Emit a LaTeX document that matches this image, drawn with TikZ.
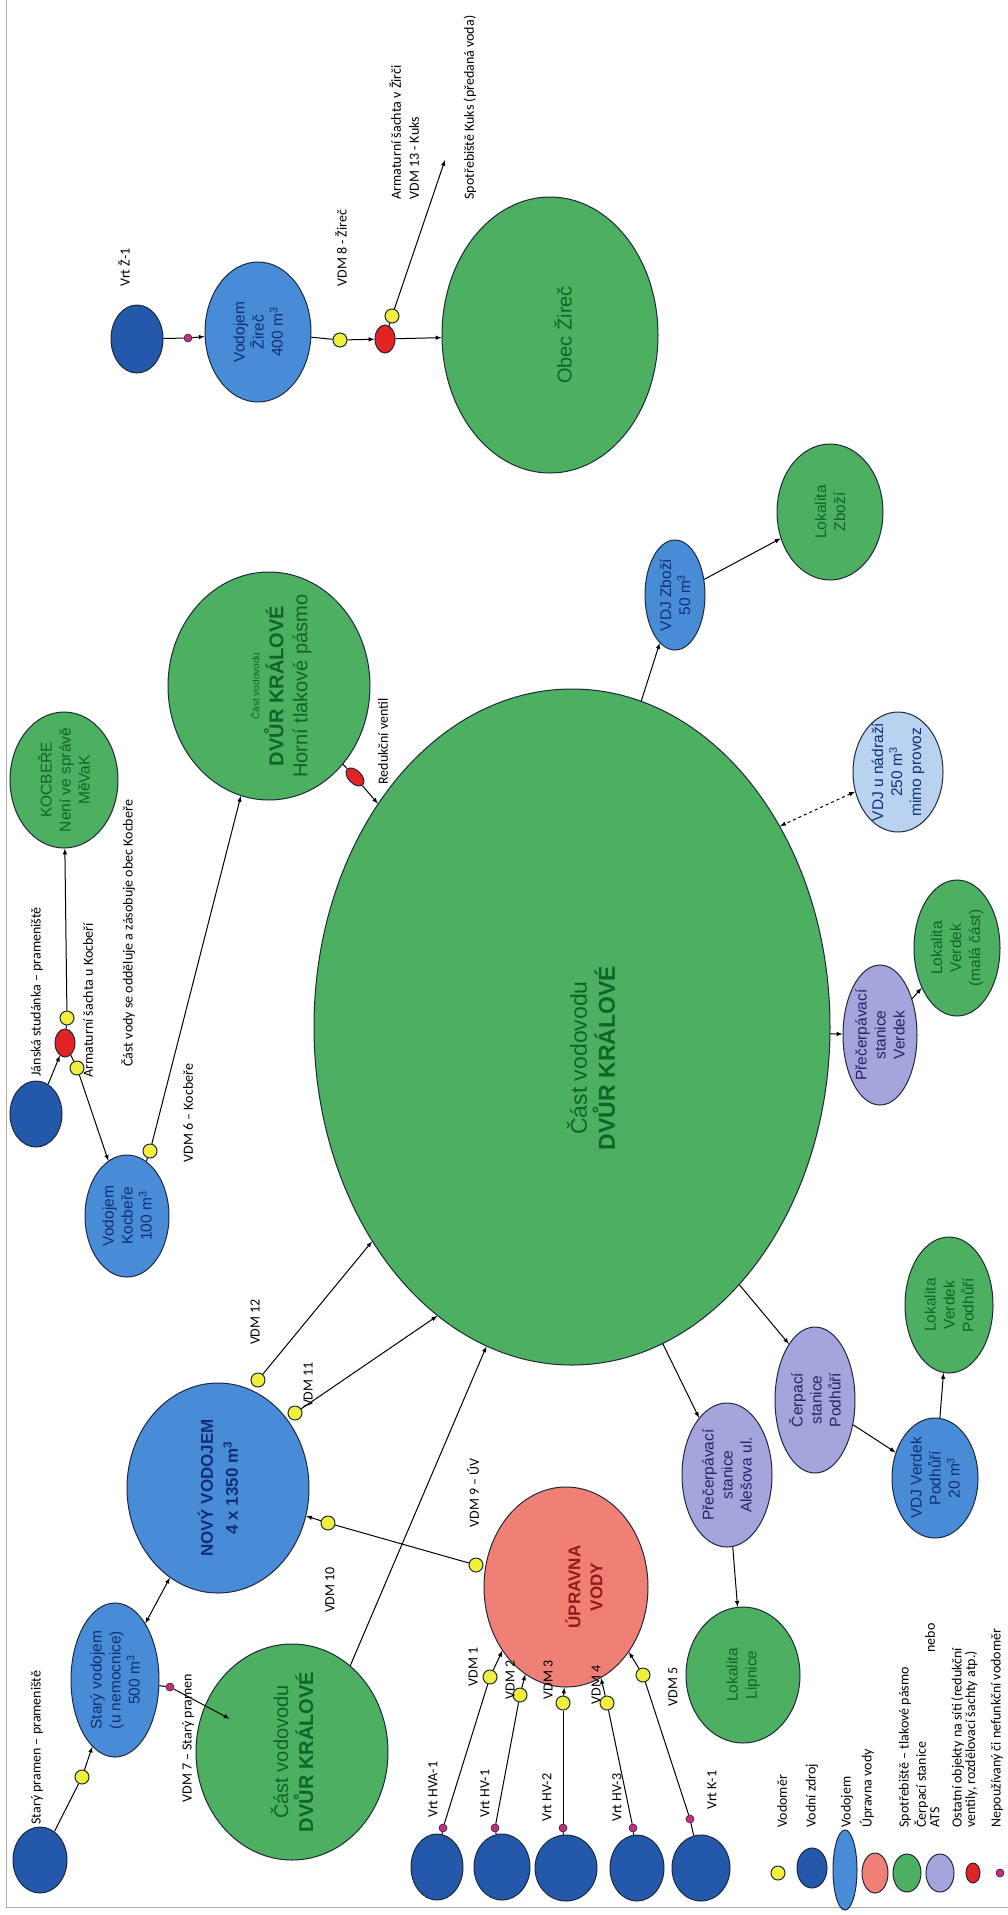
\documentclass[tikz,border=0pt]{standalone}
\usepackage{fontspec}
\setmainfont{Carlito}
\newfontfamily\arialf{Liberation Sans}
\usetikzlibrary{positioning}
\usetikzlibrary{arrows}
\usetikzlibrary{shapes}

\definecolor{edge}{RGB}{30,40,60}
\definecolor{srcblue}{RGB}{36,88,170}
\definecolor{tankblue}{RGB}{72,140,215}
\definecolor{oldtank}{RGB}{185,210,240}
\definecolor{spotgreen}{RGB}{76,176,96}
\definecolor{uvsalmon}{RGB}{240,128,118}
\definecolor{statlilac}{RGB}{165,165,222}
\definecolor{armred}{RGB}{225,35,35}
\definecolor{meteryellow}{RGB}{240,240,60}
\definecolor{badmagenta}{RGB}{200,45,125}
\definecolor{gtext}{RGB}{16,100,40}
\definecolor{btext}{RGB}{18,45,120}
\definecolor{rtext}{RGB}{150,25,25}
\definecolor{ltext}{RGB}{35,35,100}

\begin{document}
\begin{tikzpicture}[x=1pt,y=-1pt,>=latex,line width=1pt,
  blob/.style 2 args={ellipse,draw=edge,inner sep=0pt,minimum width=#1pt,minimum height=#2pt},
  src/.style 2 args={blob={#1}{#2},fill=srcblue},
  tank/.style 2 args={blob={#1}{#2},fill=tankblue},
  offtank/.style 2 args={blob={#1}{#2},fill=oldtank},
  spot/.style 2 args={blob={#1}{#2},fill=spotgreen},
  uvs/.style 2 args={blob={#1}{#2},fill=uvsalmon},
  stat/.style 2 args={blob={#1}{#2},fill=statlilac},
  meter/.style={circle,draw=edge,fill=meteryellow,minimum size=14pt,inner sep=0pt},
  dead/.style={circle,draw=edge,line width=0.6pt,fill=badmagenta,minimum size=8pt,inner sep=0pt},
  armat/.style={ellipse,draw=edge,fill=armred,minimum width=20pt,minimum height=28pt,inner sep=0pt},
  vt/.style={rotate=90,align=center,inner sep=0pt,font=\arialf\fontsize{15.5}{19}\selectfont},
  gtx/.style={vt,text=gtext},
  btx/.style={vt,text=btext},
  rtx/.style={vt,text=rtext},
  ltx/.style={vt,text=ltext},
  lbl/.style={rotate=90,anchor=west,inner sep=0pt,font=\fontsize{14}{18}\selectfont},
  lblc/.style={lbl,anchor=center},
  leg/.style={lbl,font=\fontsize{14}{13.5}\selectfont},
  legc/.style={leg,anchor=center}]
\useasboundingbox (0,0) rectangle (1008,1915);
\draw[gray!60] (6,0) -- (6,1907) -- (1008,1907);

% stary pramen a vodojemy
\node[src={54}{66}] (starypramen) at (40,1860) {};
\node[meter] (vdm0) at (82,1777) {};
\node[tank={88}{154},label={[btx]center:Starý vodojem\\(u nemocnice)\\500 m\textsuperscript{3}}] (staryvdj) at (115,1680) {};
\node[tank={182}{210},label={[btx,font=\arialf\bfseries\fontsize{17}{25}\selectfont]center:NOVÝ VODOJEM\\4 x 1350 m\textsuperscript{3}}] (novyvdj) at (218,1488) {};
\node[dead] (m7) at (170,1687) {};
\node[spot={192}{216},label={[gtx,font=\arialf\fontsize{20}{25}\selectfont]center:Část vodovodu\\\textbf{DVŮR KRÁLOVÉ}}] (dklow) at (292,1752) {};
\node[uvs={164}{200},label={[xshift=18pt,rtx,font=\arialf\bfseries\fontsize{17}{22}\selectfont]center:ÚPRAVNA\\VODY}] (uv) at (566,1587) {};
\node[meter] (vdm9a) at (476,1565) {};
\node[meter] (vdm9b) at (328,1523) {};
\node[meter] (vdm12) at (258,1380) {};
\node[meter] (vdm11) at (295,1413) {};

% vrty
\node[src={52}{66}] (hva1) at (437,1867) {};
\node[src={56}{66}] (hv1) at (502,1867) {};
\node[src={62}{66}] (hv2) at (566,1868) {};
\node[src={54}{66}] (hv3) at (637,1868) {};
\node[src={58}{66}] (k1) at (701,1868) {};
\node[dead] (mhva1) at (443,1828) {};
\node[dead] (mhv1) at (495,1828) {};
\node[dead] (mhv2) at (563,1828) {};
\node[dead] (mhv3) at (633,1828) {};
\node[dead] (mk1) at (690,1819) {};
\node[meter] (vdm1) at (490,1677) {};
\node[meter] (vdm2) at (520,1695) {};
\node[meter] (vdm3) at (563,1703) {};
\node[meter] (vdm4) at (607,1703) {};
\node[meter] (vdm5) at (643,1675) {};

% hlavni spotrebiste
\node[spot={516}{676},label={[xshift=19pt,yshift=-31pt,gtx,font=\arialf\fontsize{23}{28}\selectfont]center:Část vodovodu\\\textbf{DVŮR KRÁLOVÉ}}] (dk) at (572,1027) {};
\node[stat={90}{144},label={[ltx]center:Přečerpávací\\stanice\\Alešova ul.}] (alesova) at (727,1475) {};
\node[spot={114}{136},label={[gtx]center:Lokalita\\Lipnice}] (lipnice) at (743,1675) {};
\node[stat={80}{146},label={[ltx]center:Čerpací\\stanice\\Podhůří}] (podhuri) at (815,1400) {};
\node[tank={86}{120},label={[btx]center:VDJ Verdek\\Podhůří\\20 m\textsuperscript{3}}] (vdjverdek) at (935,1478) {};
\node[spot={88}{136},label={[gtx]center:Lokalita\\Verdek\\Podhůří}] (lokpodhuri) at (949,1305) {};
\node[stat={74}{140},label={[ltx]center:Přečerpávací\\stanice\\Verdek}] (precverdek) at (880,1035) {};
\node[spot={86}{136},label={[gtx]center:Lokalita\\Verdek\\(malá část)}] (lokverdek) at (957,948) {};
\node[offtank={90}{120},label={[btx]center:VDJ u nádraží\\250 m\textsuperscript{3}\\mimo provoz}] (vdjnadrazi) at (898,772) {};
\node[tank={60}{110},label={[btx]center:VDJ Zboží\\50 m\textsuperscript{3}}] (vdjzbozi) at (675,595) {};
\node[spot={106}{136},label={[gtx]center:Lokalita\\Zboží}] (lokzbozi) at (830,512) {};

% Zirec
\node[src={52}{68}] (vrtz1) at (137,339) {};
\node[dead] (mz1) at (188,338) {};
\node[tank={106}{140},label={[btx]center:Vodojem\\Žireč\\400 m\textsuperscript{3}}] (vdjzirec) at (258,332) {};
\node[meter] (vdm8) at (340,340) {};
\node[armat] (aszirec) at (385,339) {};
\node[meter] (vdm13) at (392,316) {};
\coordinate (kuks) at (445,160);
\node[spot={216}{276},label={[xshift=13pt,gtx,font=\arialf\fontsize{20}{24}\selectfont]center:Obec Žireč}] (obeczirec) at (550,335) {};

% Kocbere
\node[src={52}{66}] (janska) at (36,1114) {};
\node[armat] (askocb) at (65,1043) {};
\node[meter] (vdmk) at (67,1018) {};
\node[meter] (vdmkv) at (77,1068) {};
\node[spot={108}{136},label={[gtx]center:KOCBEŘE\\Není ve správě\\MěVaK}] (kocbere) at (64,780) {};
\node[tank={84}{122},label={[btx]center:Vodojem\\Kocbeře\\100 m\textsuperscript{3}}] (vdjkocb) at (127,1216) {};
\node[meter] (vdm6) at (150,1151) {};
\node[spot={202}{228},label={[xshift=12pt,gtx,font=\arialf\fontsize{20}{24}\selectfont]center:{\fontsize{10}{12}\selectfont Část vodovodu}\\\textbf{DVŮR KRÁLOVÉ}\\Horní tlakové pásmo}] (dkhorni) at (269,686) {};
\node[armat,rotate=45,minimum width=13pt,minimum height=22pt] (redventil) at (355,777) {};

% popisky
\node[lbl] (lstary) at (37,1825) {Starý pramen – prameniště};
\node[lbl] (lvdm7) at (188,1803) {VDM 7 – Starý pramen};
\node[lblc] (lvdm10) at (330,1590) {VDM 10};
\node[lblc] (lvdm9) at (473,1493) {VDM 9 – ÚV};
\node[lblc] (lvdm12) at (255,1322) {VDM 12};
\node[lblc] (lvdm11) at (308,1385) {VDM 11};
\node[lbl] (lhva1) at (433,1818) {Vrt HVA-1};
\node[lbl] (lhv1) at (485,1818) {Vrt HV-1};
\node[lbl] (lhv2) at (547,1822) {Vrt HV-2};
\node[lbl] (lhv3) at (617,1822) {Vrt HV-3};
\node[lbl] (lk1) at (712,1810) {Vrt K-1};
\node[lbl] (lvdm1) at (473,1687) {VDM 1};
\node[lbl] (lvdm2) at (510,1700) {VDM 2};
\node[lbl] (lvdm3) at (548,1700) {VDM 3};
\node[lbl] (lvdm4) at (596,1705) {VDM 4};
\node[lbl] (lvdm5) at (673,1707) {VDM 5};
\node[lbl] (lvrtz1) at (124,287) {Vrt Ž-1};
\node[lbl] (lvdm8) at (341,287) {VDM 8 - Žireč};
\node[lbl,anchor=north west,align=left] (lkuks) at (389,200) {Armaturní šachta v Žirči\\VDM 13 - Kuks};
\node[lbl] (lspotkuks) at (470,200) {Spotřebiště Kuks (předaná voda)};
\node[lbl] (ljanska) at (37,1077) {Jánská studánka – prameniště};
\node[lbl] (laskocb) at (88,1078) {Armaturní šachta u Kocbeří};
\node[lbl] (lcastvody) at (128,1067) {Část vody se odděluje a zásobuje obec Kocbeře};
\node[lblc] (lvdm6) at (188,1113) {VDM 6 – Kocbeře};
\node[lbl] (lredventil) at (383,785) {Redukční ventil};

% legenda
\node[meter] (legmeter) at (778,1873) {};
\node[src={30}{40}] (legsrc) at (812,1868) {};
\node[tank={24}{80}] (legtank) at (845,1870) {};
\node[uvs={26}{40}] (leguv) at (875,1873) {};
\node[spot={28}{38}] (legspot) at (907,1873) {};
\node[stat={28}{38}] (legstat) at (940,1873) {};
\node[armat,minimum width=14pt,minimum height=20pt] (legarmat) at (973,1873) {};
\node[dead] (legdead) at (1000,1873) {};
\node[leg] (lleg1) at (782,1828) {Vodoměr};
\node[leg] (lleg2) at (812,1828) {Vodní zdroj};
\node[leg] (lleg3) at (847,1828) {Vodojem};
\node[leg] (lleg4) at (867,1828) {Úpravna vody};
\node[leg] (lleg5) at (905,1828) {Spotřebiště – tlakové pásmo};
\node[leg,anchor=north west,align=left] (lleg6) at (914,1828) {Čerpací stanice\\ATS};
\node[legc] (lleg7) at (930,1638) {nebo};
\node[leg,anchor=north west,align=left] (lleg8) at (951,1828) {Ostatní objekty na síti (redukční\\ventily, rozdělovací šachty atp.)};
\node[leg] (lleg9) at (997,1828) {Nepoužívaný či nefunkční vodoměr};

% spojnice
\draw (starypramen) -- (vdm0);
\draw[->] (vdm0) -- (staryvdj);
\draw[<->] (staryvdj) -- (novyvdj);
\draw (staryvdj) -- (m7);
\draw[->,shorten >=-28pt] (m7) -- (dklow);
\draw[->] (dklow.56) -- (dk.255);
\draw (vdm9a) -- (vdm9b);
\draw[->] (vdm9b) -- (novyvdj);
\draw[->] (vdm12) -- (dk.227);
\draw[->] (vdm11) -- (dk.245);

\draw (hva1) -- (mhva1);
\draw (hv1) -- (mhv1);
\draw (hv2) -- (mhv2);
\draw (hv3) -- (mhv3);
\draw (k1) -- (mk1);
\draw (mhva1) -- (vdm1);
\draw (mhv1) -- (vdm2);
\draw (mhv2) -- (vdm3);
\draw (mhv3) -- (vdm4);
\draw (mk1) -- (vdm5);
\draw[->] (vdm1) -- (uv.225);
\draw[->] (vdm2) -- (uv.245);
\draw[->] (vdm3) -- (uv.269);
\draw[->] (vdm4) -- (uv.291);
\draw[->] (vdm5) -- (uv.314);

\draw[->] (dk.286) -- (alesova);
\draw[->] (alesova) -- (lipnice);
\draw[->] (dk.303) -- (podhuri.115);
\draw[->] (podhuri) -- (vdjverdek);
\draw[->] (vdjverdek) -- (lokpodhuri);
\draw[->] (dk) -- (precverdek);
\draw[->] (precverdek) -- (lokverdek);
\draw[<->,dashed] (vdjnadrazi) -- (dk.44);
\draw[->] (dk.78) -- (vdjzbozi);
\draw[->] (vdjzbozi) -- (lokzbozi);
\draw (dkhorni) -- (redventil);
\draw[->] (redventil) -- (dk.131);

\draw (vrtz1) -- (mz1);
\draw[->] (mz1) -- (vdjzirec);
\draw (vdjzirec) -- (vdm8);
\draw[->] (vdm8) -- (aszirec);
\draw[->] (aszirec) -- (obeczirec);
\draw (aszirec) -- (vdm13);
\draw[->] (vdm13) -- (kuks);

\draw[->] (janska) -- (askocb);
\draw (askocb) -- (vdmk);
\draw[->] (vdmk) -- (kocbere);
\draw (askocb) -- (vdmkv);
\draw[->] (vdmkv) -- (vdjkocb);
\draw (vdjkocb) -- (vdm6);
\draw[->] (vdm6) -- (dkhorni);

\end{tikzpicture}
\end{document}
